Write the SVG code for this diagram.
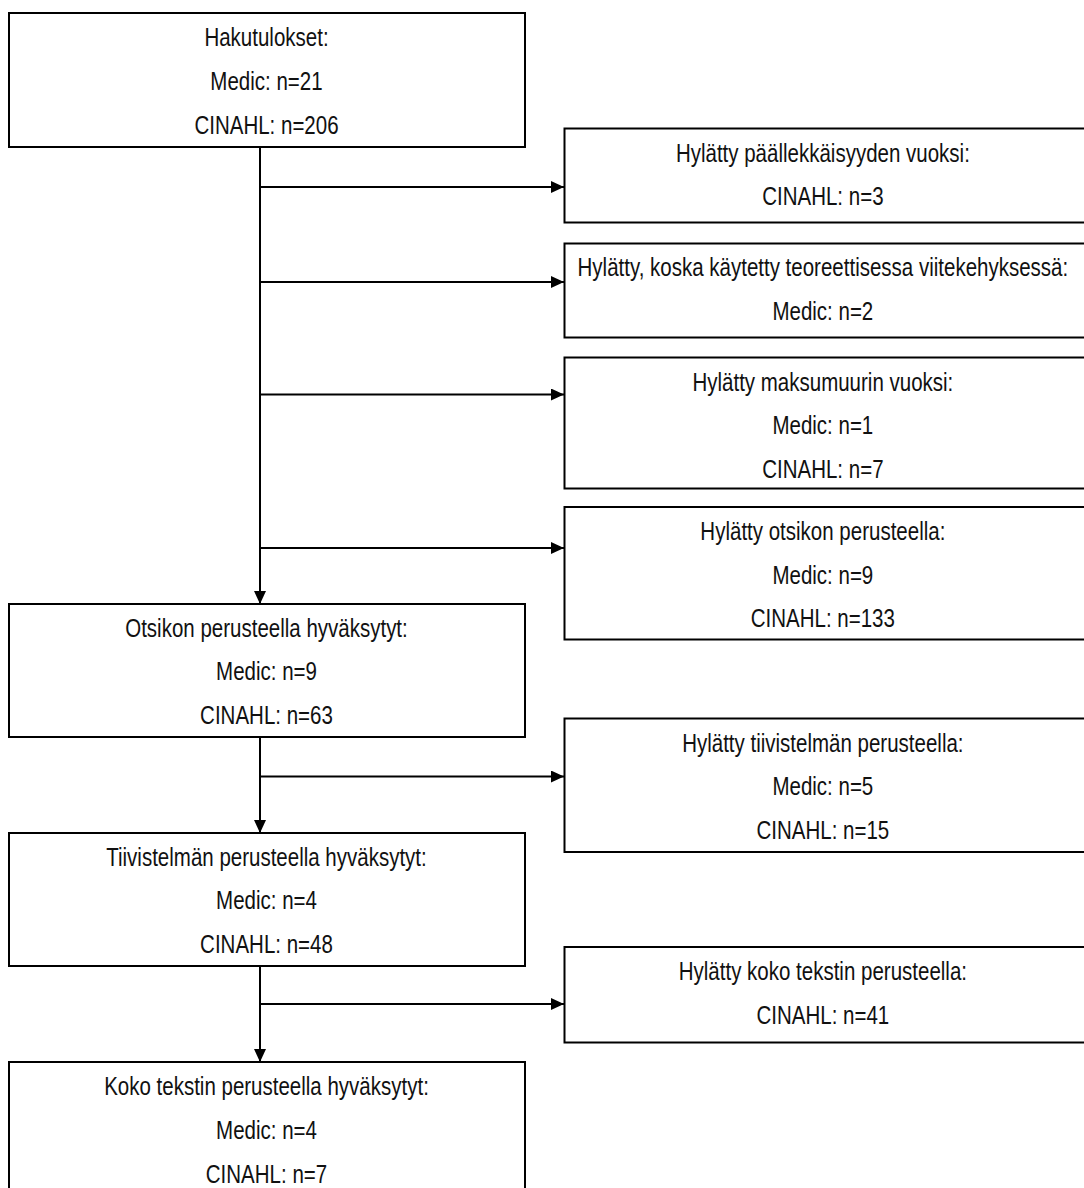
<svg xmlns="http://www.w3.org/2000/svg" width="1084" height="1188" viewBox="0 0 1084 1188">
<style>
.box{fill:#fff;stroke:#000;stroke-width:2}
.c{stroke:#000;stroke-width:2;fill:none}
.t{font-family:"Liberation Sans",Arial,sans-serif;font-size:25px;fill:#111;text-anchor:middle}
</style>
<defs>
<marker id="ah" markerUnits="userSpaceOnUse" markerWidth="13" markerHeight="12" refX="13" refY="6" orient="auto"><path d="M0,0 L13,6 L0,12 z" fill="#000"/></marker>
</defs>
<rect width="1084" height="1188" fill="#fff"/>
<g id="connectors">
<line class="c" x1="260" y1="147" x2="260" y2="604" marker-end="url(#ah)"/>
<line class="c" x1="260" y1="737" x2="260" y2="833" marker-end="url(#ah)"/>
<line class="c" x1="260" y1="966" x2="260" y2="1062" marker-end="url(#ah)"/>
<line class="c" x1="260" y1="187" x2="564" y2="187" marker-end="url(#ah)"/>
<line class="c" x1="260" y1="282" x2="564" y2="282" marker-end="url(#ah)"/>
<line class="c" x1="260" y1="394.5" x2="564" y2="394.5" marker-end="url(#ah)"/>
<line class="c" x1="260" y1="548" x2="564" y2="548" marker-end="url(#ah)"/>
<line class="c" x1="260" y1="776.5" x2="564" y2="776.5" marker-end="url(#ah)"/>
<line class="c" x1="260" y1="1004" x2="564" y2="1004" marker-end="url(#ah)"/>
</g>
<g id="n1">
<rect class="box" x="9" y="13" width="516" height="134"/>
<text class="t" transform="scale(0.82,1)" x="325" y="46">Hakutulokset:</text>
<text class="t" transform="scale(0.82,1)" x="325" y="90">Medic: n=21</text>
<text class="t" transform="scale(0.82,1)" x="325" y="134">CINAHL: n=206</text>
</g>
<g id="n2">
<rect class="box" x="9" y="604" width="516" height="133"/>
<text class="t" transform="scale(0.82,1)" x="325" y="637">Otsikon perusteella hyväksytyt:</text>
<text class="t" transform="scale(0.82,1)" x="325" y="680.5">Medic: n=9</text>
<text class="t" transform="scale(0.82,1)" x="325" y="724">CINAHL: n=63</text>
</g>
<g id="n3">
<rect class="box" x="9" y="833" width="516" height="133"/>
<text class="t" transform="scale(0.82,1)" x="325" y="866">Tiivistelmän perusteella hyväksytyt:</text>
<text class="t" transform="scale(0.82,1)" x="325" y="909.5">Medic: n=4</text>
<text class="t" transform="scale(0.82,1)" x="325" y="953">CINAHL: n=48</text>
</g>
<g id="n4">
<rect class="box" x="9" y="1062" width="516" height="140"/>
<text class="t" transform="scale(0.82,1)" x="325" y="1095.5">Koko tekstin perusteella hyväksytyt:</text>
<text class="t" transform="scale(0.82,1)" x="325" y="1139.5">Medic: n=4</text>
<text class="t" transform="scale(0.82,1)" x="325" y="1183">CINAHL: n=7</text>
</g>
<g id="r1">
<rect class="box" x="564.5" y="128.5" width="522" height="94"/>
<text class="t" transform="scale(0.82,1)" x="1003.5" y="162">Hylätty päällekkäisyyden vuoksi:</text>
<text class="t" transform="scale(0.82,1)" x="1003.5" y="205.5">CINAHL: n=3</text>
</g>
<g id="r2">
<rect class="box" x="564.5" y="243.5" width="522" height="94"/>
<text class="t" transform="scale(0.82,1)" x="1003.5" y="276.5">Hylätty, koska käytetty teoreettisessa viitekehyksessä:</text>
<text class="t" transform="scale(0.82,1)" x="1003.5" y="320">Medic: n=2</text>
</g>
<g id="r3">
<rect class="box" x="564.5" y="357.5" width="522" height="131"/>
<text class="t" transform="scale(0.82,1)" x="1003.5" y="391">Hylätty maksumuurin vuoksi:</text>
<text class="t" transform="scale(0.82,1)" x="1003.5" y="434.5">Medic: n=1</text>
<text class="t" transform="scale(0.82,1)" x="1003.5" y="478">CINAHL: n=7</text>
</g>
<g id="r4">
<rect class="box" x="564.5" y="507" width="522" height="132.5"/>
<text class="t" transform="scale(0.82,1)" x="1003.5" y="540.5">Hylätty otsikon perusteella:</text>
<text class="t" transform="scale(0.82,1)" x="1003.5" y="584">Medic: n=9</text>
<text class="t" transform="scale(0.82,1)" x="1003.5" y="627.5">CINAHL: n=133</text>
</g>
<g id="r5">
<rect class="box" x="564.5" y="718.5" width="522" height="133.5"/>
<text class="t" transform="scale(0.82,1)" x="1003.5" y="752">Hylätty tiivistelmän perusteella:</text>
<text class="t" transform="scale(0.82,1)" x="1003.5" y="795.5">Medic: n=5</text>
<text class="t" transform="scale(0.82,1)" x="1003.5" y="839">CINAHL: n=15</text>
</g>
<g id="r6">
<rect class="box" x="564.5" y="947" width="522" height="95.5"/>
<text class="t" transform="scale(0.82,1)" x="1003.5" y="980.5">Hylätty koko tekstin perusteella:</text>
<text class="t" transform="scale(0.82,1)" x="1003.5" y="1024">CINAHL: n=41</text>
</g>
</svg>
